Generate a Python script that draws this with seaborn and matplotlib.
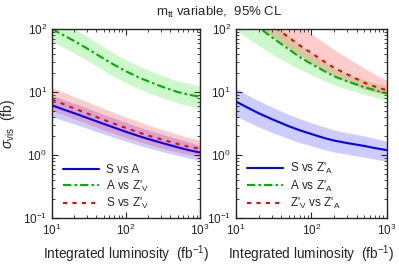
import numpy as np
import pandas as pd
import matplotlib
matplotlib.use("Agg")
import matplotlib.pyplot as plt
import seaborn as sns

sns.set_style("ticks")
plt.rcParams['font.family'] = ['Liberation Sans', 'DejaVu Sans']
plt.rcParams['mathtext.fontset'] = 'custom'
plt.rcParams['mathtext.rm'] = 'Liberation Sans'
plt.rcParams['mathtext.it'] = 'Liberation Sans:italic'
plt.rcParams['mathtext.bf'] = 'Liberation Sans:bold'

# integrated luminosity (fb^-1)
lumi = [10, 15, 20, 30, 50, 70, 100, 150, 200, 300, 500, 700, 1000]

# left panel (Z'_V)
l_blue = [6.17, 5.19, 4.62, 3.89, 3.13, 2.72, 2.34, 2.0, 1.80, 1.57, 1.33, 1.20, 1.10]
l_blue_lo = [4.07, 3.47, 3.13, 2.66, 2.16, 1.9, 1.66, 1.43, 1.30, 1.15, 0.99, 0.90, 0.83]
l_blue_hi = [8.9, 7.4, 6.6, 5.56, 4.42, 3.85, 3.31, 2.79, 2.51, 2.16, 1.82, 1.62, 1.41]
l_green = [100, 77.6, 64.6, 49, 33.9, 26.9, 21.4, 17.0, 14.8, 12.3, 10.0, 9.1, 8.4]
l_green_lo = [63, 49.5, 41.5, 31.7, 22, 17.5, 14, 11.2, 9.8, 8.2, 6.7, 6.1, 5.5]
l_green_hi = [158, 122, 101, 76, 52, 41, 32.5, 25.8, 22.4, 18.5, 15, 13.6, 12.6]
l_red = [7.59, 6.31, 5.50, 4.57, 3.63, 3.13, 2.69, 2.29, 2.04, 1.78, 1.50, 1.36, 1.26]
l_red_lo = [5.1, 4.3, 3.76, 3.16, 2.5, 2.19, 1.9, 1.64, 1.48, 1.30, 1.11, 1.02, 0.95]
l_red_hi = [11.7, 9.8, 8.4, 7.0, 5.5, 4.7, 4.0, 3.4, 3.0, 2.57, 2.14, 1.9, 1.74]

# right panel (Z'_A)
r_blue = [7.08, 5.5, 4.62, 3.72, 2.88, 2.48, 2.16, 1.86, 1.70, 1.55, 1.40, 1.29, 1.20]
r_blue_lo = [4.15, 3.3, 2.8, 2.3, 1.82, 1.58, 1.4, 1.22, 1.12, 1.03, 0.93, 0.86, 0.8]
r_blue_hi = [11.4, 8.7, 7.3, 5.8, 4.4, 3.8, 3.25, 2.78, 2.5, 2.26, 2.02, 1.83, 1.65]
r_green = [209, 141, 107, 74, 48, 36, 28, 21.4, 17.8, 14.8, 12.0, 10.7, 9.5]
r_green_lo = [98, 69, 55, 40, 28.5, 23.2, 18.8, 15.0, 13.0, 11.1, 9.2, 8.3, 7.4]
r_green_hi = [447, 288, 209, 136, 80, 57, 42, 30.5, 24.3, 19.7, 15.7, 13.8, 12.9]
r_red = [331, 224, 170, 115, 74, 55, 41.7, 30.2, 24.3, 19.1, 14.1, 12.2, 10.7]
r_red_lo = [209, 145, 112, 77, 50, 38, 28.8, 21.4, 18, 14.5, 11.2, 9.9, 9.1]
r_red_hi = [741, 490, 367, 245, 155, 113, 84, 60, 47, 35, 24, 19, 15.5]

left_labels = ["S vs A", "A vs Z$'_{\\mathrm{V}}$", "S vs Z$'_{\\mathrm{V}}$"]
right_labels = ["S vs Z$'_{\\mathrm{A}}$", "A vs Z$'_{\\mathrm{A}}$",
                "Z$'_{\\mathrm{V}}$ vs Z$'_{\\mathrm{A}}$"]

line_cols = ['#0000ff', '#00b000', '#ff0000']
band_cols = ['#0000ff', '#00dd00', '#ff0000']
dash_pat = [None, (4, 1.5, 1.2, 1.5), (2, 2.5)]

fig = plt.figure(figsize=(3.99, 2.66), dpi=100)
ax1 = fig.add_axes([0.130, 0.180, 0.371, 0.711])
ax2 = fig.add_axes([0.591, 0.180, 0.378, 0.711])

panels = [
    (ax1, [(l_blue, l_blue_lo, l_blue_hi), (l_green, l_green_lo, l_green_hi),
           (l_red, l_red_lo, l_red_hi)], left_labels),
    (ax2, [(r_blue, r_blue_lo, r_blue_hi), (r_green, r_green_lo, r_green_hi),
           (r_red, r_red_lo, r_red_hi)], right_labels),
]

for ax, series, labels in panels:
    for (mid, lo, hi), bc in zip(series, band_cols):
        ax.fill_between(lumi, lo, hi, color=bc, alpha=0.2, lw=0)
    for (mid, lo, hi), col, dash, lab in zip(series, line_cols, dash_pat, labels):
        df = pd.DataFrame({'lumi': lumi, 'sigma': mid})
        sns.lineplot(data=df, x='lumi', y='sigma', ax=ax, color=col, lw=1.5, label=lab)
        if dash is not None:
            ax.lines[-1].set_dashes(dash)
    ax.set_xscale('log')
    ax.set_yscale('log')
    ax.set_xlim(10, 1000)
    ax.set_ylim(0.1, 100)
    ax.tick_params(which='both', direction='in', top=True, right=True, labelsize=8.5)
    ax.tick_params(which='major', length=4, width=0.8)
    ax.tick_params(which='minor', length=2, width=0.6)
    for s in ax.spines.values():
        s.set_linewidth(1.0)
    ax.set_xlabel("Integrated luminosity  (fb$^{-1}$)", fontsize=9.8)
    ax.set_ylabel("")
    ax.legend(loc='lower left', frameon=False, fontsize=8.5, handlelength=3.0,
              labelspacing=0.2, handletextpad=0.6, borderaxespad=0.2,
              bbox_to_anchor=(0.03, 0.0))

ax1.set_ylabel("$\\sigma_{\\mathrm{vis}}$  (fb)", fontsize=10)
fig.text(0.55, 0.955, "m$_{\\mathrm{tt}}$ variable,  95% CL", ha='center', va='center',
         fontsize=9.5)

fig.savefig("out.png", dpi=100)
